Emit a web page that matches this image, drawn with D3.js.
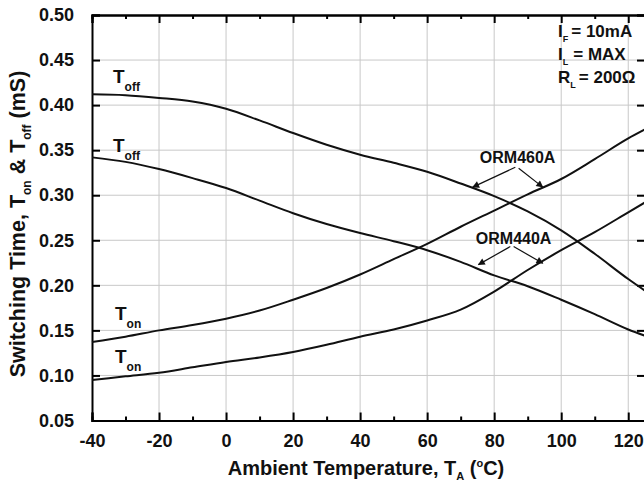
<!DOCTYPE html>
<html><head><meta charset="utf-8">
<script src="https://cdn.jsdelivr.net/npm/d3@7"></script>
<style>
body{margin:0;background:#fff;}
svg{display:block;font-family:"Liberation Sans",Arial,sans-serif;font-weight:bold;}
</style></head>
<body><svg id="c" width="644" height="482"></svg>
<script>
const temps = [-40,-30,-20,-10,0,10,20,30,40,50,60,70,80,90,100,110,120,125];
const orm460Toff = [0.412,0.411,0.408,0.404,0.396,0.383,0.369,0.356,0.345,0.336,0.326,0.313,0.299,0.282,0.261,0.235,0.207,0.194];
const orm440Toff = [0.342,0.337,0.329,0.319,0.308,0.294,0.280,0.268,0.258,0.249,0.239,0.226,0.211,0.199,0.184,0.168,0.151,0.144];
const orm460Ton  = [0.137,0.143,0.150,0.156,0.163,0.172,0.184,0.197,0.212,0.229,0.246,0.265,0.283,0.301,0.318,0.340,0.363,0.373];
const orm440Ton  = [0.095,0.099,0.103,0.109,0.115,0.120,0.126,0.134,0.143,0.151,0.161,0.173,0.193,0.217,0.239,0.259,0.281,0.292];
const xTicks = [-40,-20,0,20,40,60,80,100,120];
const yTicks = [0.05,0.10,0.15,0.20,0.25,0.30,0.35,0.40,0.45,0.50];

const svg = d3.select("#c");
const x = d3.scaleLinear().domain([-40,125]).range([92,645]);
const y = d3.scaleLinear().domain([0.05,0.50]).range([420.5,15]);

// grid
const grid = svg.append("g").attr("stroke","#c8c8c8").attr("stroke-width",1);
xTicks.slice(1).forEach(t=>grid.append("line").attr("x1",x(t)).attr("x2",x(t)).attr("y1",y(0.5)).attr("y2",y(0.05)));
yTicks.slice(1,-1).forEach(t=>grid.append("line").attr("x1",x(-40)).attr("x2",x(125)).attr("y1",y(t)).attr("y2",y(t)));

// axes
const fmt = d3.format(".2f");
const axB = d3.axisBottom(x).tickValues(xTicks).tickSize(-8).tickFormat(d=>String(d)).tickPadding(14);
const gB = svg.append("g").attr("transform",`translate(0,${y(0.05)})`).call(axB);
const axT = d3.axisTop(x).tickValues(xTicks).tickSize(-8).tickFormat("");
const gT = svg.append("g").attr("transform",`translate(0,${y(0.5)})`).call(axT);
const minor = d3.range(-30,125,20);
const gBm = svg.append("g").attr("transform",`translate(0,${y(0.05)})`).call(d3.axisBottom(x).tickValues(minor).tickSize(-4).tickFormat(""));
const gTm = svg.append("g").attr("transform",`translate(0,${y(0.5)})`).call(d3.axisTop(x).tickValues(minor).tickSize(-4).tickFormat(""));
const axL = d3.axisLeft(y).tickValues(yTicks).tickSize(-8).tickFormat(fmt).tickPadding(18);
const gL = svg.append("g").attr("transform",`translate(${x(-40)},0)`).call(axL);
const axR = d3.axisRight(y).tickValues(yTicks).tickSize(-8).tickFormat("");
const gR = svg.append("g").attr("transform",`translate(${x(125)},0)`).call(axR);
[gB,gT,gBm,gTm,gL,gR].forEach(g=>{
  g.select(".domain").attr("stroke","#000").attr("stroke-width",2);
  g.selectAll(".tick line").attr("stroke","#000").attr("stroke-width",2);
  g.selectAll("text").attr("font-size",18).attr("font-weight","bold").attr("fill","#111").attr("font-family","Liberation Sans, Arial, sans-serif");
});

// curves
const line = d3.line().x((d,i)=>x(temps[i])).y(d=>y(d)).curve(d3.curveMonotoneX);
[orm460Toff,orm440Toff,orm460Ton,orm440Ton].forEach(s=>{
  svg.append("path").attr("d",line(s)).attr("fill","none").attr("stroke","#111").attr("stroke-width",2);
});

// arrow marker
svg.append("defs").append("marker").attr("id","ah").attr("viewBox","0 0 10 10").attr("refX",9).attr("refY",5)
  .attr("markerWidth",9).attr("markerHeight",7).attr("markerUnits","userSpaceOnUse").attr("orient","auto")
  .append("path").attr("d","M0,0L10,5L0,10z").attr("fill","#111");

function arrow(x1,y1,x2,y2){
  svg.append("line").attr("x1",x(x1)).attr("y1",y(y1)).attr("x2",x(x2)).attr("y2",y(y2))
    .attr("stroke","#111").attr("stroke-width",1.2).attr("marker-end","url(#ah)");
}
svg.append("text").attr("x",x(87)).attr("y",y(0.336)).attr("text-anchor","middle").attr("font-size",16).attr("fill","#111").text("ORM460A");
arrow(86.3,0.331,73.6,0.309);
arrow(87.3,0.330,94.5,0.309);
svg.append("text").attr("x",x(85.8)).attr("y",y(0.246)).attr("text-anchor","middle").attr("font-size",16).attr("fill","#111").text("ORM440A");
arrow(84.8,0.243,75.3,0.223);
arrow(85.8,0.243,94.5,0.2245);

// T labels
function tlabel(px,py,sub){
  const t = svg.append("text").attr("x",px).attr("y",py).attr("font-size",19).attr("fill","#111");
  t.append("tspan").text("T");
  t.append("tspan").attr("font-size",12).attr("dy",8).attr("dx",0).text(sub);
}
tlabel(113,83,"off");
tlabel(113,152,"off");
tlabel(115,320,"on");
tlabel(115,363,"on");

// conditions
function cond(px,py,main,sub,rest,subdx){
  const t = svg.append("text").attr("x",px).attr("y",py).attr("font-size",17).attr("fill","#111");
  t.append("tspan").text(main);
  t.append("tspan").attr("font-size",9).attr("dy",5).text(sub);
  t.append("tspan").attr("dy",-5).attr("dx",subdx).text(rest);
}
cond(558,37,"I","F","= 10mA",3);
cond(558,60,"I","L","= MAX",5);
cond(558,83,"R","L","= 200Ω",3);

// axis titles
const xl = svg.append("text").attr("x",366).attr("y",475).attr("text-anchor","middle").attr("font-size",20).attr("fill","#111");
xl.append("tspan").text("Ambient Temperature, T");
xl.append("tspan").attr("font-size",11).attr("dy",5).text("A");
xl.append("tspan").attr("dy",-5).text(" (");
xl.append("tspan").attr("font-size",11).attr("dy",-8).text("o");
xl.append("tspan").attr("dy",8).text("C)");

const yl = svg.append("text").attr("transform","translate(25,224) rotate(-90)").attr("text-anchor","middle").attr("font-size",21.5).attr("fill","#111");
yl.append("tspan").text("Switching Time, T");
yl.append("tspan").attr("font-size",12).attr("dy",6).text("on");
yl.append("tspan").attr("dy",-6).text(" & T");
yl.append("tspan").attr("font-size",12).attr("dy",6).text("off");
yl.append("tspan").attr("dy",-6).text(" (mS)");
</script></body></html>
